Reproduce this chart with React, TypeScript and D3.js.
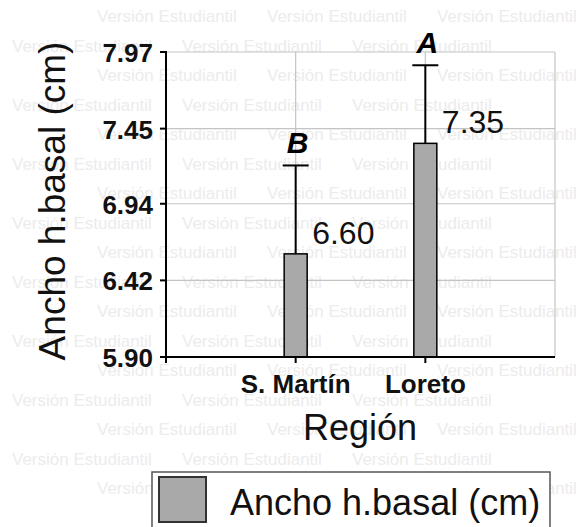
import React from "react";
import * as d3 from "d3";

const categories = ["S. Martín", "Loreto"];
const means = [6.6, 7.35];
const errors = [0.6, 0.53];
const groupLetters = ["B", "A"];
const valueLabels = ["6.60", "7.35"];
const yTicks = [5.9, 6.42, 6.94, 7.45, 7.97];
const yTickLabels = ["5.90", "6.42", "6.94", "7.45", "7.97"];
const yTitle = "Ancho h.basal (cm)";
const xTitle = "Región";
const legendLabel = "Ancho h.basal (cm)";
const watermarkText = "Versión Estudiantil";

const W = 583;
const H = 527;
const FONT = "'Liberation Sans', Arial, sans-serif";

export default function App() {
  const left = 166, right = 555, top = 52, bottom = 357;
  const y = d3.scaleLinear().domain([5.9, 7.97]).range([bottom, top]);
  const x = d3.scalePoint<string>().domain(categories).range([left, right]).padding(1);
  const barW = 23;
  const capW = 26;

  const wmW = 142;
  const marks: { x: number; y: number }[] = [];
  for (let r = 0; r < 18; r++) {
    const yy = 22 + r * 29.5;
    if (yy > 520) break;
    const start = r % 2 === 0 ? 97 : 12;
    for (let xx = start; xx + wmW <= W - 2; xx += 170) marks.push({ x: xx, y: yy });
  }

  return (
    <svg width={W} height={H} style={{ position: "absolute", left: 0, top: 0, background: "#fff" }} fontFamily={FONT}>
      <rect x={0} y={0} width={W} height={H} fill="#fff" />
      {/* watermark */}
      <g fill="#ececec" fontSize={17}>
        {marks.map((m, i) => (
          <text key={i} x={m.x} y={m.y}>
            {watermarkText}
          </text>
        ))}
      </g>
      {/* grid */}
      <g stroke="#c4c4c4" strokeWidth={1.2}>
        {yTicks.map((t) => (
          <line key={t} x1={left} x2={right} y1={y(t)} y2={y(t)} />
        ))}
        {categories.map((c) => (
          <line key={c} x1={x(c)} x2={x(c)} y1={top} y2={bottom} />
        ))}
        <line x1={right} x2={right} y1={top} y2={bottom} />
      </g>
      {/* bars + error bars */}
      {categories.map((c, i) => {
        const cx = x(c) as number;
        const yt = y(means[i]);
        const ye = y(means[i] + errors[i]);
        return (
          <g key={c}>
            <line x1={cx} x2={cx} y1={yt} y2={ye} stroke="#000" strokeWidth={2} />
            <line x1={cx - capW / 2} x2={cx + capW / 2} y1={ye} y2={ye} stroke="#000" strokeWidth={2} />
            <rect x={cx - barW / 2} y={yt} width={barW} height={bottom - yt} fill="#a9a9a9" stroke="#000" strokeWidth={1.5} />
            <text x={cx + barW / 2 + 5} y={yt - 10} fontSize={32} fill="#111">
              {valueLabels[i]}
            </text>
            <text x={cx + 2} y={ye - 12} fontSize={30} fontWeight="bold" fontStyle="italic" textAnchor="middle" fill="#000">
              {groupLetters[i]}
            </text>
          </g>
        );
      })}
      {/* axes */}
      <g stroke="#000" strokeWidth={2}>
        <line x1={left} x2={left} y1={top - 1} y2={bottom + 6} />
        <line x1={left - 6} x2={right} y1={bottom} y2={bottom} />
        {yTicks.map((t) => (
          <line key={t} x1={left - 6} x2={left} y1={y(t)} y2={y(t)} />
        ))}
        {categories.map((c) => (
          <line key={c} x1={x(c)} x2={x(c)} y1={bottom} y2={bottom + 6} />
        ))}
      </g>
      <g fontSize={26} fontWeight="bold" textAnchor="end" fill="#111">
        {yTicks.map((t, i) => (
          <text key={t} x={153} y={y(t) + 10}>
            {yTickLabels[i]}
          </text>
        ))}
      </g>
      <g fontSize={26} fontWeight="bold" textAnchor="middle" fill="#111">
        {categories.map((c) => (
          <text key={c} x={x(c)} y={393}>
            {c}
          </text>
        ))}
      </g>
      <text x={360} y={440} fontSize={36} textAnchor="middle" fill="#111">
        {xTitle}
      </text>
      <text transform="translate(65,201) rotate(-90)" fontSize={37} textAnchor="middle" fill="#111">
        {yTitle}
      </text>
      {/* legend */}
      <rect x={152} y={472} width={398} height={80} fill="#fff" stroke="#555" strokeWidth={1.5} />
      <rect x={159} y={477} width={47} height={45} fill="#a9a9a9" stroke="#333" strokeWidth={2} />
      <text x={230} y={515} fontSize={36} fill="#111">
        {legendLabel}
      </text>
    </svg>
  );
}
